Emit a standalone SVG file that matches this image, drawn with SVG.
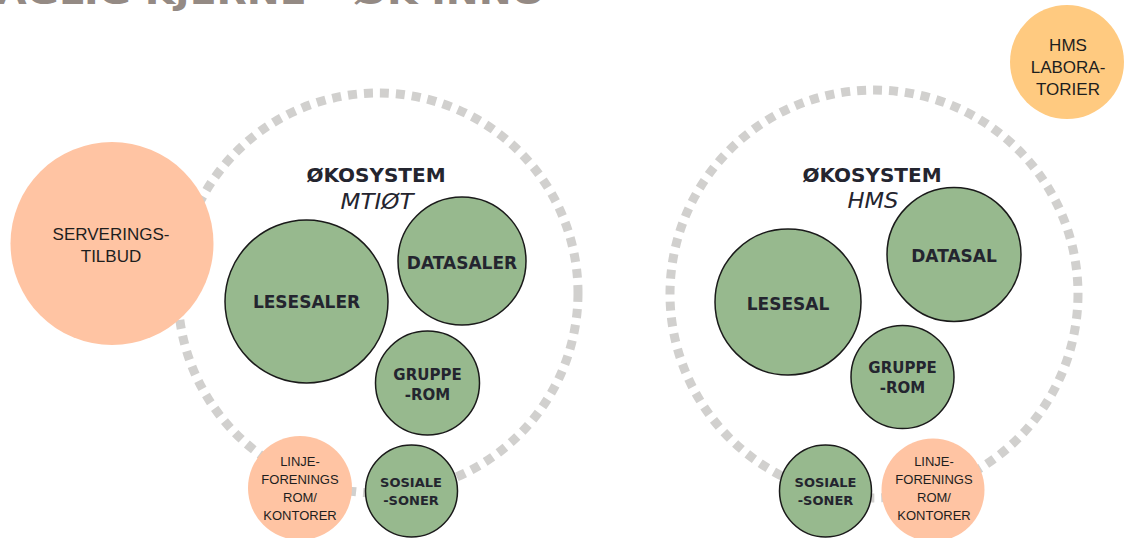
<svg xmlns="http://www.w3.org/2000/svg" width="1124" height="538" viewBox="0 0 1124 538">
<style>
.ring{fill:none;stroke:#d1d0ce;stroke-width:9;stroke-dasharray:9 7}
.green{fill:#97b98e;stroke:#1a1a1a;stroke-width:1.5}
.peach{fill:#ffc4a3}
.amber{fill:#ffca80}
.gl{font-family:"DejaVu Sans","Liberation Sans",sans-serif;font-weight:bold;fill:#24252f;text-anchor:middle}
.pl{font-family:"Liberation Sans",Arial,sans-serif;fill:#1e1e1e;text-anchor:middle}
.eco{font-family:"DejaVu Sans","Liberation Sans",sans-serif;font-weight:bold;font-size:20px;fill:#24252f;text-anchor:middle}
.ecoi{font-family:"DejaVu Sans","Liberation Sans",sans-serif;font-style:italic;font-size:21px;fill:#24252f;text-anchor:middle}
</style>
<rect width="1124" height="538" fill="#ffffff"/>
<text x="-26" y="4" font-family="DejaVu Sans, sans-serif" font-weight="bold" font-size="34" fill="#948a84" textLength="571" lengthAdjust="spacingAndGlyphs">FAGLIG KJERNE – ØK INNO</text>

<g id="connectors">
  <circle class="ring" cx="378" cy="293" r="200"/>
  <circle class="ring" cx="874" cy="294" r="204"/>
</g>

<g id="eco-mtiot-title">
  <text class="eco" x="376" y="182">ØKOSYSTEM</text>
  <text class="ecoi" x="377" y="209" textLength="73" lengthAdjust="spacingAndGlyphs">MTIØT</text>
</g>
<g id="eco-hms-title">
  <text class="eco" x="872" y="182">ØKOSYSTEM</text>
  <text class="ecoi" x="873" y="208" textLength="51" lengthAdjust="spacingAndGlyphs">HMS</text>
</g>

<g id="serveringstilbud">
  <circle class="peach" cx="112" cy="243.5" r="101.5"/>
  <text class="pl" x="111" y="240" font-size="17">SERVERINGS-</text>
  <text class="pl" x="111" y="262" font-size="17">TILBUD</text>
</g>

<g id="lesesaler">
  <circle class="green" cx="306.5" cy="301.5" r="81.5"/>
  <text class="gl" x="306.5" y="308" font-size="17">LESESALER</text>
</g>
<g id="datasaler">
  <circle class="green" cx="462" cy="261" r="64"/>
  <text class="gl" x="462" y="269" font-size="17">DATASALER</text>
</g>
<g id="grupperom-mtiot">
  <circle class="green" cx="427.5" cy="383" r="52"/>
  <text class="gl" x="427.5" y="380" font-size="15">GRUPPE</text>
  <text class="gl" x="427.5" y="399.5" font-size="15">-ROM</text>
</g>
<g id="sosiale-soner-mtiot">
  <circle class="green" cx="411.5" cy="491" r="46"/>
  <text class="gl" x="411" y="487" font-size="13">SOSIALE</text>
  <text class="gl" x="411" y="505" font-size="13">-SONER</text>
</g>
<g id="linjeforening-mtiot">
  <circle class="peach" cx="300" cy="488" r="52"/>
  <text class="pl" x="300" y="466" font-size="13">LINJE-</text>
  <text class="pl" x="300" y="484" font-size="13">FORENINGS</text>
  <text class="pl" x="300" y="502" font-size="13">ROM/</text>
  <text class="pl" x="300" y="519.5" font-size="13">KONTORER</text>
</g>

<g id="lesesal">
  <circle class="green" cx="788" cy="302" r="73"/>
  <text class="gl" x="788" y="310" font-size="17">LESESAL</text>
</g>
<g id="datasal">
  <circle class="green" cx="954" cy="254.5" r="67"/>
  <text class="gl" x="954" y="262" font-size="17">DATASAL</text>
</g>
<g id="grupperom-hms">
  <circle class="green" cx="902.5" cy="377" r="51.5"/>
  <text class="gl" x="902.5" y="373" font-size="15">GRUPPE</text>
  <text class="gl" x="902.5" y="392.5" font-size="15">-ROM</text>
</g>
<g id="sosiale-soner-hms">
  <circle class="green" cx="825.5" cy="491" r="46"/>
  <text class="gl" x="825.5" y="487" font-size="13">SOSIALE</text>
  <text class="gl" x="825.5" y="505" font-size="13">-SONER</text>
</g>
<g id="linjeforening-hms">
  <circle class="peach" cx="933" cy="490" r="51.5"/>
  <text class="pl" x="934" y="466" font-size="13">LINJE-</text>
  <text class="pl" x="934" y="484" font-size="13">FORENINGS</text>
  <text class="pl" x="934" y="502" font-size="13">ROM/</text>
  <text class="pl" x="934" y="519.5" font-size="13">KONTORER</text>
</g>

<g id="hms-laboratorier">
  <circle class="amber" cx="1067" cy="62" r="57"/>
  <text class="pl" x="1068" y="51" font-size="17">HMS</text>
  <text class="pl" x="1068" y="73" font-size="17">LABORA-</text>
  <text class="pl" x="1068" y="95" font-size="17">TORIER</text>
</g>
</svg>
